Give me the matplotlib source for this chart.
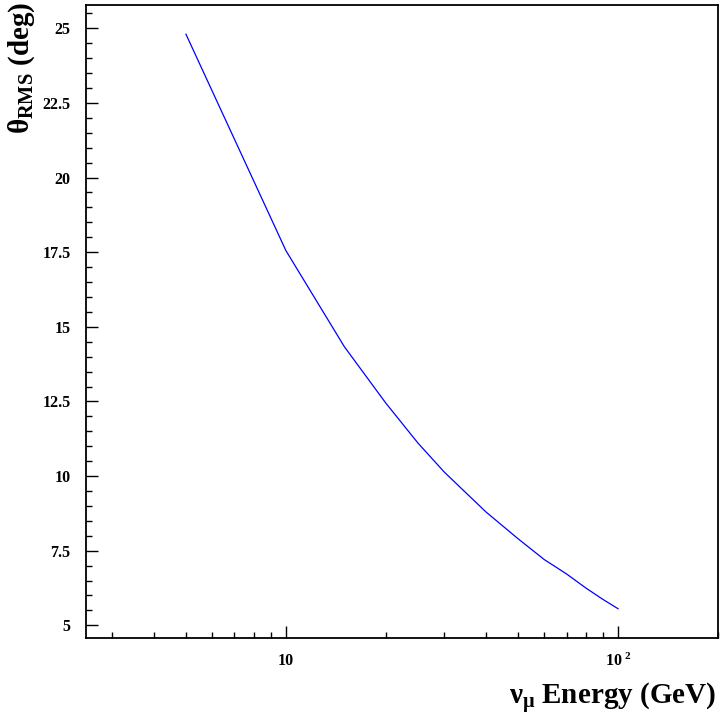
import matplotlib
matplotlib.use("Agg")
import matplotlib.pyplot as plt
from matplotlib.ticker import LogLocator, MultipleLocator, FixedLocator, FixedFormatter, NullFormatter

energy = [5, 10, 15, 20, 25, 30, 40, 50, 60, 70, 80, 90, 100]
theta_rms = [24.8, 17.55, 14.33, 12.44, 11.1, 10.13, 8.8, 7.9, 7.2, 6.72, 6.25, 5.87, 5.556]
xticks = [10, 100]
xticklabels = ["10", r"$\mathbf{10^{\ 2}}$"]
yticks = [5, 7.5, 10, 12.5, 15, 17.5, 20, 22.5, 25]
yticklabels = ["5", "7.5", "10", "12.5", "15", "17.5", "20", "22.5", "25"]

plt.rcParams['font.family'] = ['Liberation Serif', 'DejaVu Serif']
plt.rcParams['font.weight'] = 'bold'
plt.rcParams['mathtext.fontset'] = 'custom'
plt.rcParams['mathtext.rm'] = 'Liberation Serif:bold'
plt.rcParams['mathtext.it'] = 'Liberation Serif:bold'
plt.rcParams['mathtext.bf'] = 'Liberation Serif:bold'

fig = plt.figure(figsize=(7.2, 7.17), dpi=100)
ax = fig.add_axes([86/720, 1-637.7/717, (718-86)/720, (637.7-5)/717])

ax.plot(energy, theta_rms, color=(0, 0, 1), lw=0.9)
ax.set_xscale('log')
ax.set_xlim(2.5, 200)
ax.set_ylim(4.585, 25.78)

ax.xaxis.set_major_locator(FixedLocator(xticks))
ax.xaxis.set_major_formatter(FixedFormatter(xticklabels))
ax.xaxis.set_minor_locator(LogLocator(base=10, subs=range(2, 10)))
ax.xaxis.set_minor_formatter(NullFormatter())
ax.yaxis.set_major_locator(FixedLocator(yticks))
ax.yaxis.set_major_formatter(FixedFormatter(yticklabels))
ax.yaxis.set_minor_locator(MultipleLocator(0.5))

ax.tick_params(which='both', direction='in', top=False, right=False, color='black', width=1.0)
ax.tick_params(which='major', length=8.5, labelsize=11.5, pad=11)
ax.tick_params(which='minor', length=4.3)
for lab in ax.get_xticklabels() + ax.get_yticklabels():
    lab.set_fontweight('bold')

for s in ax.spines.values():
    s.set_linewidth(1.3)

fig.text(0.03, 0.998, r"$\theta_{\rm RMS}$ (deg)", rotation=90, ha='center', va='top',
         fontsize=21, fontweight='bold')
fig.text(0.995, 1-705/717, r"$\nu_{\mu}$ Energy (GeV)", ha='right', va='baseline',
         fontsize=21, fontweight='bold')

fig.savefig("out.png", dpi=100)
